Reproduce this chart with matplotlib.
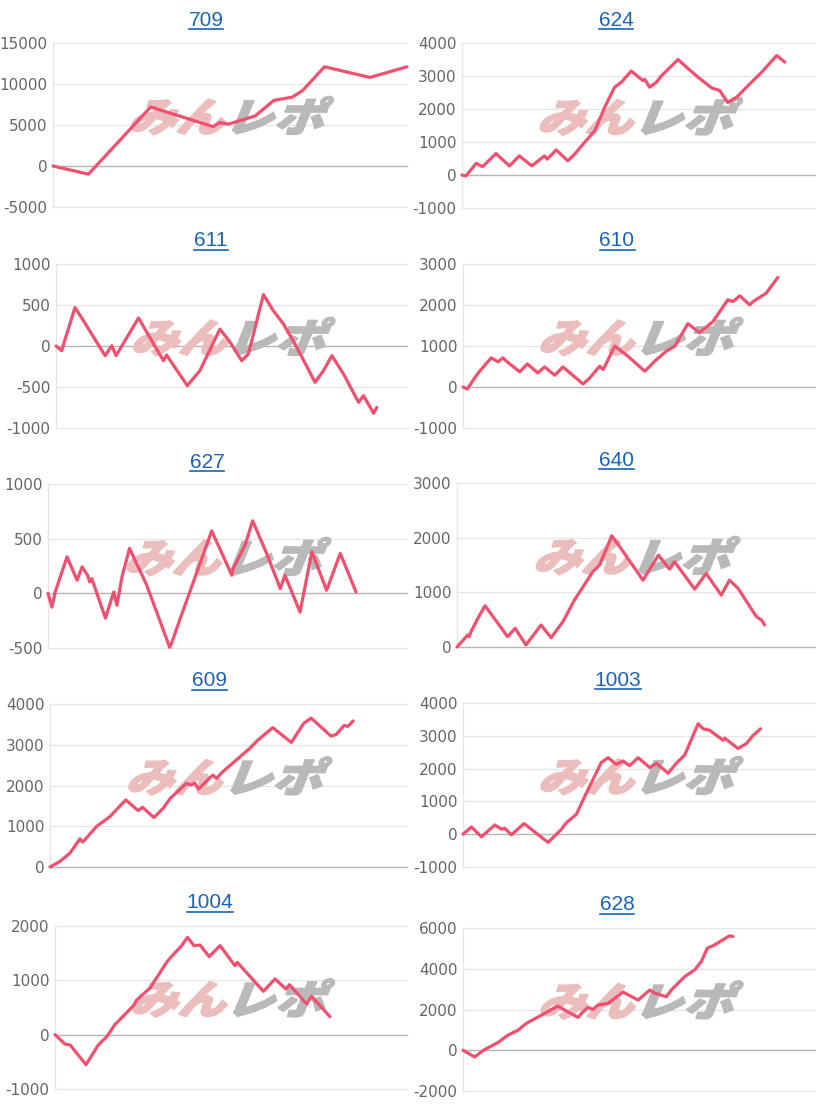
import matplotlib
matplotlib.use("Agg")
from matplotlib import pyplot as plt
from matplotlib.textpath import TextPath
from matplotlib.patches import PathPatch
from matplotlib.font_manager import FontProperties
from matplotlib.transforms import Affine2D, ScaledTranslation
from matplotlib.lines import Line2D

W, H = 816, 1105

# x = position along the day (percent of axis width), y = difference
x_709 = [0, 10.0, 27.6, 45.2, 47.1, 49.5, 57.1, 62.4, 67.6, 70.5, 76.7, 89.5, 100.0]
y_709 = [0, -1000, 7200, 4800, 5300, 5100, 6100, 8000, 8400, 9200, 12100, 10800, 12100]

x_624 = [0, 1.1, 4.0, 5.8, 9.6, 13.4, 16.2, 19.7, 23.3, 24.1, 26.6, 29.9, 31.8, 34.6, 37.5, 40.3, 43.1,
         45.0, 47.8, 51.1, 51.6, 53.0, 54.9, 56.3, 61.0, 63.9, 66.7, 70.5, 72.8, 75.0, 77.5, 81.3, 84.6,
         88.9, 91.2]
y_624 = [0, -30, 355, 250, 650, 275, 580, 275, 580, 480, 760, 430, 630, 985, 1340, 2050, 2660,
         2810, 3150, 2860, 2900, 2660, 2810, 3000, 3500, 3220, 2960, 2640, 2560, 2200, 2350, 2760, 3110,
         3620, 3420]

x_611 = [0, 1.6, 5.4, 7.8, 12.5, 14.0, 15.9, 17.1, 23.5, 30.6, 31.5, 37.4, 41.0, 46.7, 49.6, 52.9,
         54.8, 59.1, 61.9, 64.8, 68.6, 73.8, 76.2, 78.6, 81.9, 86.2, 87.6, 90.5, 91.4]
y_611 = [0, -57, 470, 310, -16, -118, 4, -118, 341, -179, -110, -484, -300, 207, 45, -179,
         -98, 626, 431, 268, -16, -443, -300, -118, -341, -687, -606, -821, -748]

x_610 = [0, 1.2, 3.3, 4.7, 8.0, 9.9, 11.3, 12.3, 16.1, 18.2, 21.2, 23.1, 26.0, 28.3, 34.0, 35.9,
         38.7, 39.7, 43.0, 46.7, 51.5, 54.3, 57.6, 60.0, 63.7, 67.0, 70.8, 75.0, 76.5, 78.4, 81.2,
         82.2, 85.9, 89.2]
y_610 = [0, -50, 220, 384, 711, 613, 711, 629, 368, 564, 343, 490, 286, 490, 74, 220,
         507, 425, 997, 752, 384, 630, 875, 998, 1545, 1325, 1595, 2126, 2085, 2224, 2003,
         2085, 2290, 2674]

x_627 = [0, 1.1, 2.0, 5.3, 8.1, 9.5, 11.0, 11.6, 12.2, 16.0, 18.3, 19.2, 20.6, 22.7, 27.5, 33.9,
         34.5, 36.8, 45.6, 51.2, 51.6, 54.9, 57.0, 60.9, 64.7, 66.0, 70.2, 73.5, 77.6, 81.4, 83.7, 85.8]
y_627 = [0, -126, 12, 334, 120, 242, 166, 104, 135, -227, 12, -110, 150, 411, 74, -494,
         -448, -233, 571, 166, 227, 442, 663, 365, 43, 166, -172, 380, 28, 365, 181, 12]

x_640 = [0, 3.0, 3.4, 3.9, 5.8, 7.8, 14.1, 16.2, 19.2, 23.4, 26.2, 29.5, 32.7, 37.8, 39.7, 43.1,
         45.7, 47.6, 51.8, 56.1, 59.2, 60.6, 66.2, 69.4, 73.6, 75.9, 78.3, 83.4, 84.8, 85.7]
y_640 = [0, 219, 190, 280, 523, 755, 189, 341, 37, 402, 170, 463, 858, 1375, 1497, 2033,
         1801, 1619, 1223, 1680, 1424, 1558, 1059, 1345, 949, 1223, 1071, 554, 493, 402]

x_609 = [0, 2.8, 5.6, 8.4, 9.1, 10.1, 13.0, 16.8, 21.2, 24.7, 25.9, 29.1, 31.7, 33.7, 38.2, 39.6,
         40.5, 41.6, 45.6, 46.6, 48.4, 55.9, 58.2, 62.4, 67.6, 71.0, 73.1, 75.4, 78.7, 80.1, 82.4,
         83.4, 84.9]
y_609 = [0, 138, 342, 692, 611, 700, 994, 1238, 1646, 1385, 1466, 1214, 1442, 1686, 2053, 2012,
         2060, 1914, 2257, 2175, 2338, 2908, 3112, 3421, 3055, 3519, 3655, 3475, 3214, 3247, 3475,
         3450, 3584]

x_1003 = [0, 2.4, 5.2, 9.0, 10.9, 11.8, 13.7, 17.3, 24.1, 27.9, 29.3, 32.1, 34.5, 39.2, 41.1, 43.4,
          45.3, 47.2, 49.6, 52.9, 54.8, 58.1, 60.4, 62.8, 66.6, 68.0, 69.9, 73.7, 74.1, 77.9, 80.3,
          82.2, 84.3]
y_1003 = [0, 221, -80, 281, 151, 181, -20, 322, -251, 151, 352, 603, 1156, 2191, 2332, 2131,
          2231, 2090, 2332, 2030, 2160, 1859, 2160, 2412, 3367, 3216, 3166, 2864, 2930, 2613, 2764,
          3015, 3216]

x_1004 = [0, 2.8, 4.3, 8.8, 12.3, 14.7, 17.0, 22.3, 23.2, 27.0, 31.7, 32.7, 36.0, 37.6, 39.5, 41.2,
          43.8, 46.9, 51.1, 51.8, 59.2, 62.5, 65.6, 66.6, 71.5, 72.9, 78.1]
y_1004 = [0, -172, -190, -552, -190, -37, 184, 534, 638, 859, 1331, 1411, 1638, 1791, 1638, 1650,
          1436, 1638, 1270, 1330, 798, 1025, 840, 920, 564, 706, 331]

x_628 = [0, 3.3, 6.1, 9.9, 12.7, 15.6, 17.9, 22.2, 26.9, 28.8, 32.6, 33.5, 35.4, 36.8, 38.2, 41.1,
         45.3, 49.6, 52.9, 54.3, 57.6, 59.0, 62.8, 65.6, 67.5, 69.2, 71.3, 73.6, 75.5, 76.5]
y_628 = [0, -328, 33, 378, 739, 985, 1314, 1724, 2167, 1970, 1609, 1800, 2102, 2003, 2217, 2299,
         2857, 2463, 2956, 2800, 2627, 2956, 3612, 3941, 4351, 5008, 5172, 5419, 5616, 5583]

titles = ["709", "624", "611", "610", "627", "640", "609", "1003", "1004", "628"]
xs = [x_709, x_624, x_611, x_610, x_627, x_640, x_609, x_1003, x_1004, x_628]
ys = [y_709, y_624, y_611, y_610, y_627, y_640, y_609, y_1003, y_1004, y_628]
yticks = [
    [-5000, 0, 5000, 10000, 15000],
    [-1000, 0, 1000, 2000, 3000, 4000],
    [-1000, -500, 0, 500, 1000],
    [-1000, 0, 1000, 2000, 3000],
    [-500, 0, 500, 1000],
    [0, 1000, 2000, 3000],
    [0, 1000, 2000, 3000, 4000],
    [-1000, 0, 1000, 2000, 3000, 4000],
    [-1000, 0, 1000, 2000],
    [-2000, 0, 2000, 4000, 6000],
]

# pixel boxes of the plot areas: left, top, right, bottom
boxes = [
    (53, 43, 407, 207), (462, 43, 816, 208),
    (56, 264, 407, 428), (463, 264, 816, 428),
    (48, 484, 407, 648), (457, 483, 816, 647),
    (50, 704, 407, 867), (463, 703, 816, 867),
    (55, 926, 407, 1089), (463, 928, 816, 1091),
]
title_pos = [(206, 20), (616, 20), (211, 241), (617, 241), (207, 462), (616, 460),
             (210, 681), (618, 680), (210, 903), (617, 905)]

line_color = "#f0506e"
grid_color = "#e6e6e6"
zero_color = "#b4b4b4"
title_color = "#1a63b8"

fig = plt.figure(figsize=(W / 100, H / 100), dpi=100)
fig.patch.set_facecolor("white")

fp_mark = FontProperties(family="Noto Sans CJK JP", weight="heavy")
path_a = TextPath((0, 0), "みん", size=1, prop=fp_mark)
path_b = TextPath((0, 0), "レポ", size=1, prop=fp_mark)


def watermark(ax):
    # stylised logo behind the line, like the site's chart images
    base_a = Affine2D().skew_deg(18, 0).scale(48, 40)
    base_b = Affine2D().skew_deg(18, 0).scale(50, 40)
    ax.add_patch(PathPatch(path_a, transform=base_a + ScaledTranslation(0.21, 0.46, ax.transAxes),
                           facecolor="#ebbdbd", edgecolor="#ebbdbd", lw=1.3, zorder=1, clip_on=False))
    ax.add_patch(PathPatch(path_b, transform=base_b + ScaledTranslation(0.48, 0.46, ax.transAxes),
                           facecolor="#b9b9b9", edgecolor="#b9b9b9", lw=1.3, zorder=1, clip_on=False))


title_texts = []
for i in range(10):
    l, t, r, b = boxes[i]
    ax = fig.add_axes([l / W, 1 - b / H, (r - l) / W, (b - t) / H])
    ticks = yticks[i]
    ax.set_xlim(0, 100)
    ax.set_ylim(ticks[0], ticks[-1])
    ax.set_yticks(ticks)
    ax.set_yticklabels([str(v) for v in ticks], fontsize=11, color="#666666", family="DejaVu Sans")
    ax.set_xticks([])
    ax.tick_params(axis="y", length=0, pad=4)
    for s in ["top", "right", "bottom"]:
        ax.spines[s].set_visible(False)
    ax.spines["left"].set_color(grid_color)
    ax.spines["left"].set_linewidth(1)
    for v in ticks:
        ax.axhline(v, color=zero_color if v == 0 else grid_color, lw=1, zorder=0.5, clip_on=False)
    watermark(ax)
    ax.plot(xs[i], ys[i], color=line_color, lw=2.3, zorder=3, solid_joinstyle="round",
            solid_capstyle="round", clip_on=False)

    tx, ty = title_pos[i]
    txt = fig.text(tx / W, 1 - ty / H, titles[i], ha="center", va="center", fontsize=15,
                   color=title_color, family="Liberation Sans")
    title_texts.append(txt)

# underline the titles (they are links on the page)
fig.canvas.draw()
inv = fig.transFigure.inverted()
for txt in title_texts:
    bb = txt.get_window_extent()
    (x0, y0), (x1, y1) = inv.transform([(bb.x0, bb.y0 + 1), (bb.x1, bb.y0 + 1)])
    fig.add_artist(Line2D([x0, x1], [y0, y1], color=title_color, lw=1.2, transform=fig.transFigure))

fig.savefig("out.png", dpi=100, facecolor="white")
